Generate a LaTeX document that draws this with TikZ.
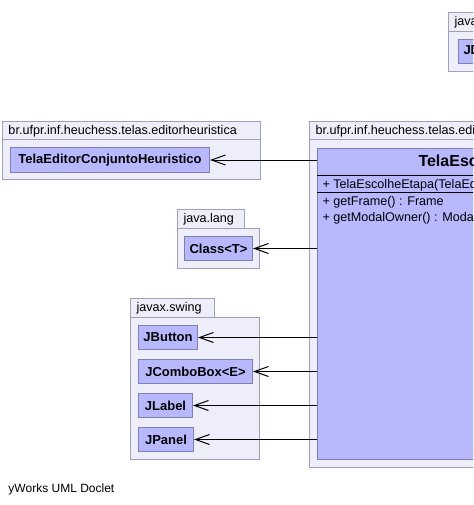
\documentclass[tikz,border=0pt]{standalone}
\usepackage{fontspec}
\setmainfont{Liberation Sans}
\usetikzlibrary{arrows.meta,positioning}
\definecolor{pkgfill}{RGB}{238,238,250}
\definecolor{pkgline}{RGB}{160,160,184}
\definecolor{clsfill}{RGB}{184,184,255}
\definecolor{clsline}{RGB}{128,128,180}
\tikzstyle{paquete} = [draw=pkgline, fill=pkgfill, anchor=north west, inner sep=0pt]
\tikzstyle{pestana} = [paquete, inner xsep=6pt, minimum height=19pt, align=left, font=\fontsize{12.6}{14}\selectfont]
\tikzstyle{clase} = [draw=clsline, fill=clsfill, anchor=north west, minimum height=24pt, inner sep=0pt, font=\fontsize{13}{15}\selectfont\bfseries]
\tikzstyle{miembro} = [anchor=west, inner sep=0pt, font=\fontsize{12.6}{14}\selectfont]
\tikzstyle{usa} = [draw=black, line width=1pt, -{Straight Barb[length=14pt,width=10pt]}]
\begin{document}
\begin{tikzpicture}[x=1pt, y=-1pt, line width=1pt]
\useasboundingbox (0,0) rectangle (473,505);
\begin{scope}
\clip (0,0) rectangle (473,505);
% paquetes
\node[pestana, text width=60pt] (pkgArribaTab) at (448,12) {javax.swing};
\node[paquete, minimum width=80pt, minimum height=40pt] (pkgArriba) at (448,31) {};
\node[clase, inner xsep=5pt] (dialogo) at (458,39) {JDialog};
\node[pestana, text width=246pt] (pkgEditorTab) at (2,121) {br.ufpr.inf.heuchess.telas.editorheuristica};
\node[paquete, minimum width=258pt, minimum height=40pt] (pkgEditor) at (2,139) {};
\node[pestana, text width=300pt] (pkgEtapaTab) at (309,121) {br.ufpr.inf.heuchess.telas.editorheuristica.etapas};
\node[paquete, minimum width=300pt, minimum height=328pt] (pkgEtapa) at (309,139) {};
\node[pestana, text width=55pt] (pkgLangTab) at (177,209) {java.lang};
\node[paquete, minimum width=82pt, minimum height=40pt] (pkgLang) at (177,228) {};
\node[pestana, text width=72pt] (pkgSwingTab) at (130,298) {javax.swing};
\node[paquete, minimum width=129pt, minimum height=142pt] (pkgSwing) at (130,317) {};
% clases
\node[clase, minimum width=199pt] (editor) at (10,147.5) {TelaEditorConjuntoHeuristico};
\node[clase, minimum width=68pt] (clase) at (184,236) {Class<T>};
\node[clase, minimum width=59pt] (boton) at (138,325) {JButton};
\node[clase, minimum width=114pt] (combo) at (138,359) {JComboBox<E>};
\node[clase, minimum width=54pt] (etiqueta) at (138,393) {JLabel};
\node[clase, minimum width=55pt] (panel) at (138,427) {JPanel};
% clase principal
\node[clase, minimum width=300pt, minimum height=311pt] (tela) at (317,148) {};
\node[miembro, font=\fontsize{16}{18}\selectfont\bfseries] (telaTitulo) at (418,162) {TelaEscolheEtapa};
\draw[black] (317,175) -- (617,175);
\node[miembro] (constructor) at (322,185) {+\ TelaEscolheEtapa(TelaEditorConjuntoHeuristico)};
\draw[black] (317,192) -- (617,192);
\node[miembro] (getFrame) at (322,202) {+\ getFrame() : Frame};
\node[miembro] (getModal) at (322,218) {+\ getModalOwner() : ModalFrameHierarchy};
% dependencias
\draw[usa] (tela.west |- editor.east) -- (editor.east);
\draw[usa] (tela.west |- clase.east) -- (clase.east);
\draw[usa] (tela.west |- boton.east) -- (boton.east);
\draw[usa] (tela.west |- combo.east) -- (combo.east);
\draw[usa] (tela.west |- etiqueta.east) -- (etiqueta.east);
\draw[usa] (tela.west |- panel.east) -- (panel.east);
\end{scope}
\node[miembro, font=\fontsize{12}{14}\selectfont] (doclet) at (8,489) {yWorks UML Doclet};
\end{tikzpicture}
\end{document}
